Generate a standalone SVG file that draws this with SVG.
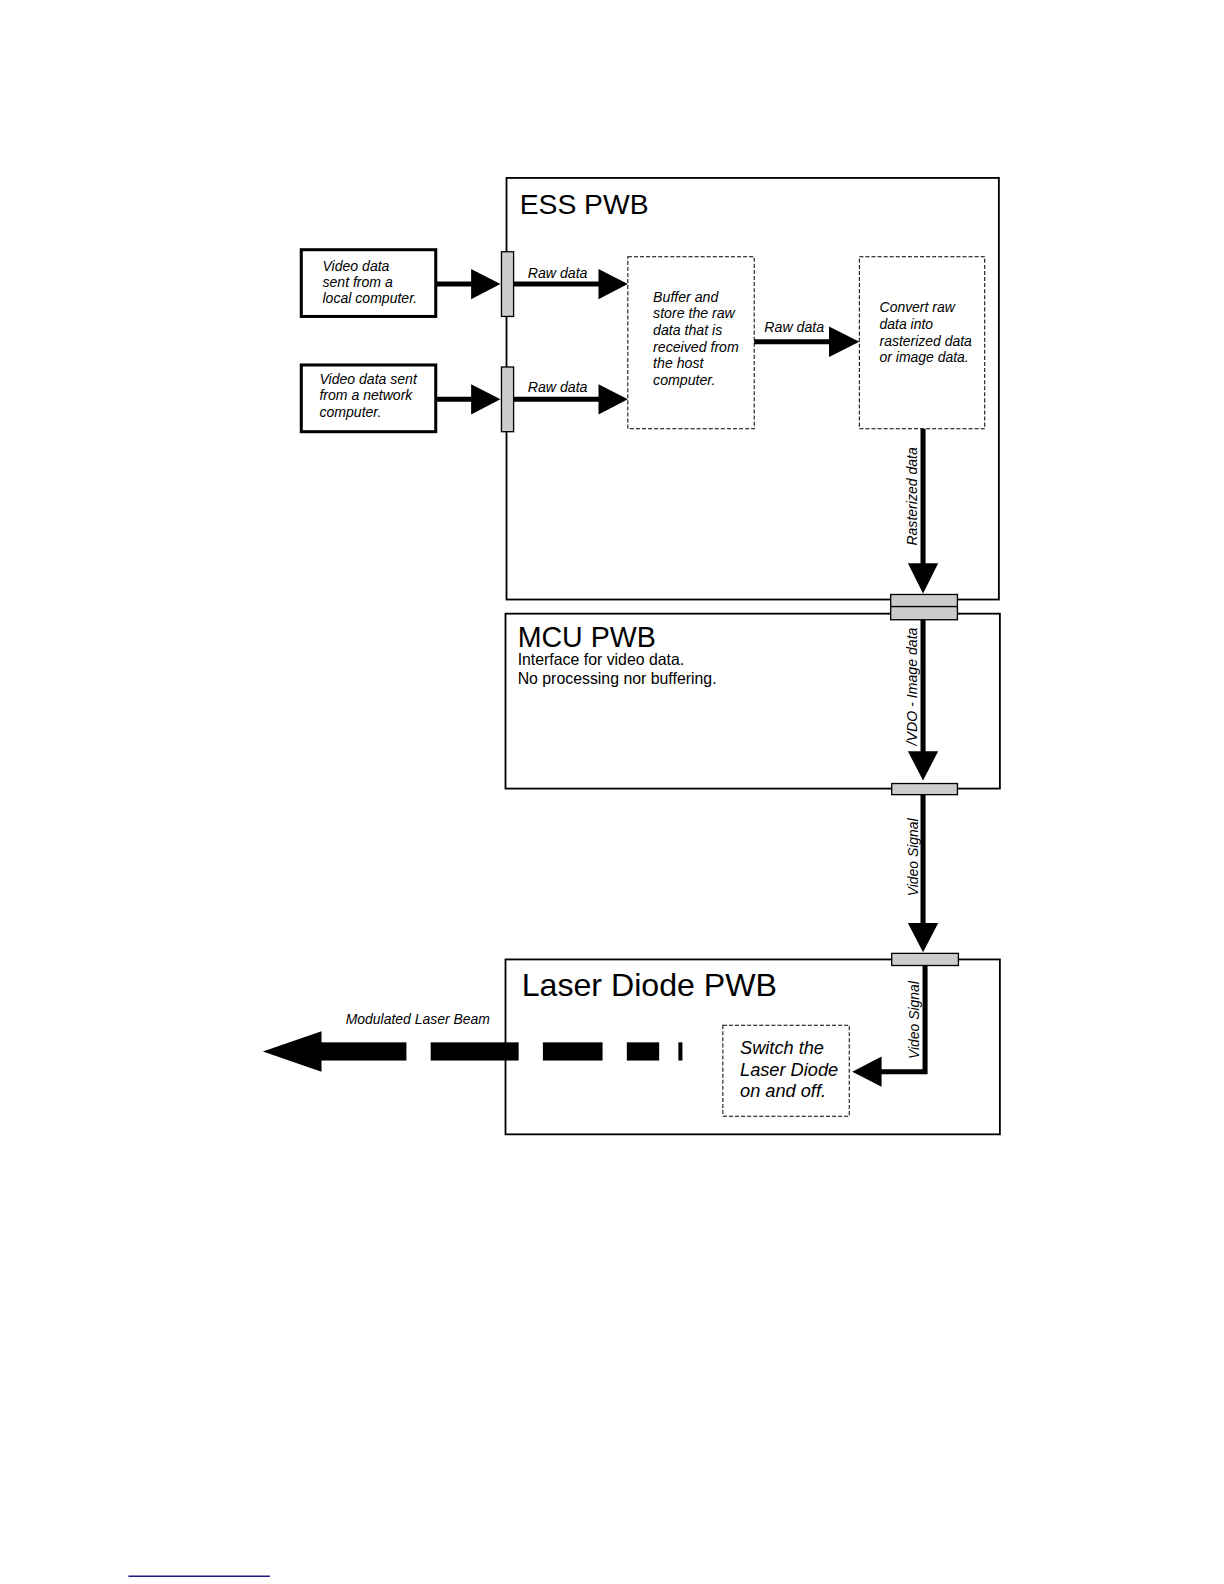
<svg xmlns="http://www.w3.org/2000/svg" width="1224" height="1584" viewBox="0 0 1224 1584">
<style>
.board{fill:none;stroke:#000;stroke-width:1.8}
.src{fill:#fff;stroke:#000;stroke-width:3}
.proc{fill:none;stroke:#000;stroke-width:1;stroke-dasharray:4,2}
.conn{fill:#ccc;stroke:#000;stroke-width:1.3}
.shaft{fill:none;stroke:#000;stroke-width:5}
.head{fill:#000}
.t{font-family:"Liberation Sans",Arial,sans-serif;fill:#000}
.i{font-family:"Liberation Sans",Arial,sans-serif;font-style:italic;fill:#000}
</style>
<rect width="1224" height="1584" fill="#fff"/>
<g transform="scale(1.011)">
<g id="ess">
<rect class="board" x="501" y="176" width="487" height="417"/>
<text class="t" x="514" y="212" font-size="28">ESS PWB</text>
</g>
<g id="mcu">
<rect class="board" x="500" y="607" width="489" height="173"/>
<text class="t" x="512" y="640" font-size="28.3">MCU PWB</text>
<text class="t" x="512" y="658" font-size="15.7">Interface for video data.</text>
<text class="t" x="512" y="677" font-size="15.7">No processing nor buffering.</text>
</g>
<g id="laser">
<rect class="board" x="500" y="949" width="489" height="173"/>
<text class="t" x="516" y="985" font-size="31.8">Laser Diode PWB</text>
</g>

<g id="src1">
<rect class="src" x="298" y="247" width="133" height="66"/>
<text class="i" font-size="13.9"><tspan x="319" y="268">Video data</tspan><tspan x="319" y="284">sent from a</tspan><tspan x="319" y="300">local computer.</tspan></text>
</g>
<g id="src2">
<rect class="src" x="298" y="361" width="133" height="66"/>
<text class="i" font-size="13.9"><tspan x="316" y="380">Video data sent</tspan><tspan x="316" y="396">from a network</tspan><tspan x="316" y="412">computer.</tspan></text>
</g>
<g id="buffer">
<rect class="proc" x="621" y="254" width="125" height="170"/>
<text class="i" font-size="14"><tspan x="646" y="299">Buffer and</tspan><tspan x="646" y="315">store the raw</tspan><tspan x="646" y="331">data that is</tspan><tspan x="646" y="348">received from</tspan><tspan x="646" y="364">the host</tspan><tspan x="646" y="381">computer.</tspan></text>
</g>
<g id="convert">
<rect class="proc" x="850" y="254" width="124" height="170"/>
<text class="i" font-size="13.8"><tspan x="870" y="309">Convert raw</tspan><tspan x="870" y="325">data into</tspan><tspan x="870" y="342">rasterized data</tspan><tspan x="870" y="358">or image data.</tspan></text>
</g>
<g id="switch">
<rect class="proc" x="715" y="1014" width="125" height="90"/>
<text class="i" font-size="18"><tspan x="732" y="1043">Switch the</tspan><tspan x="732" y="1064">Laser Diode</tspan><tspan x="732" y="1085">on and off.</tspan></text>
</g>

<g id="connectors">
<rect class="conn" x="496" y="249" width="12" height="64"/>
<rect class="conn" x="496" y="363" width="12" height="64"/>
<rect class="conn" x="881" y="588" width="66" height="12"/>
<rect class="conn" x="881" y="600" width="66" height="13"/>
<rect class="conn" x="882" y="775" width="65" height="11"/>
<rect class="conn" x="882" y="943" width="66" height="12"/>

<line class="shaft" x1="431" y1="281" x2="470" y2="281"/>
<polygon class="head" points="466,266 495,281 466,296"/>
<line class="shaft" x1="431" y1="395" x2="470" y2="395"/>
<polygon class="head" points="466,380 495,395 466,410"/>

<line class="shaft" x1="508" y1="281" x2="595" y2="281"/>
<polygon class="head" points="592,266 621,281 592,296"/>
<text class="i" x="522" y="275" font-size="14">Raw data</text>
<line class="shaft" x1="508" y1="395" x2="595" y2="395"/>
<polygon class="head" points="592,380 621,395 592,410"/>
<text class="i" x="522" y="388" font-size="14">Raw data</text>

<line class="shaft" x1="746" y1="338" x2="823" y2="338"/>
<polygon class="head" points="820,323 850,338 820,353"/>
<text class="i" x="756" y="328" font-size="14">Raw data</text>

<line class="shaft" x1="913" y1="424" x2="913" y2="560"/>
<polygon class="head" points="898,557 913,587 928,557"/>
<text class="i" font-size="13.9" text-anchor="middle" transform="translate(907,491) rotate(-90)">Rasterized data</text>

<line class="shaft" x1="913" y1="613" x2="913" y2="746"/>
<polygon class="head" points="898,743 913,772 928,743"/>
<text class="i" font-size="14" text-anchor="middle" transform="translate(907,679) rotate(-90)">/VDO - Image data</text>

<line class="shaft" x1="913" y1="786" x2="913" y2="916"/>
<polygon class="head" points="898,913 913,942 928,913"/>
<text class="i" font-size="13.8" text-anchor="middle" transform="translate(908,848) rotate(-90)">Video Signal</text>

<polyline class="shaft" points="915,955 915,1060 870,1060"/>
<polygon class="head" points="872,1045 843,1060 872,1075"/>
<text class="i" font-size="13.8" text-anchor="middle" transform="translate(909,1009) rotate(-90)">Video Signal</text>

<polygon class="head" points="260,1040 318,1020 318,1060"/>
<rect class="head" x="317" y="1031" width="85" height="18"/>
<rect class="head" x="426" y="1031" width="87" height="18"/>
<rect class="head" x="537" y="1031" width="59" height="18"/>
<rect class="head" x="620" y="1031" width="32" height="18"/>
<rect class="head" x="671" y="1031" width="4" height="18"/>
<text class="i" x="342" y="1013" font-size="13.8">Modulated Laser Beam</text>
</g>

<line x1="127" y1="1559" x2="267" y2="1559" stroke="#1a1a8c" stroke-width="1.5"/>
</g>
</svg>
